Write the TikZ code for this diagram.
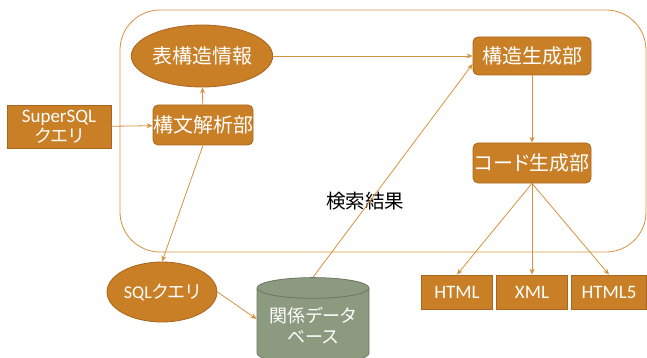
\documentclass[tikz,border=0pt]{standalone}
\usepackage{fontspec}
\setmainfont{Carlito}
\newfontfamily\jp[RawFeature=+palt]{Noto Sans CJK JP}
\usetikzlibrary{arrows.meta,shapes.geometric}
\definecolor{boxfill}{RGB}{201,127,38}
\definecolor{boxline}{RGB}{170,102,32}
\definecolor{flowline}{RGB}{214,146,62}
\definecolor{dbfill}{RGB}{140,154,128}
\definecolor{dbline}{RGB}{108,118,98}
\tikzset{
    >={Stealth[length=6pt,width=5pt]},
    every picture/.style={line width=0.8pt},
    bigfont/.style={font=\fontsize{20}{22}\selectfont},
    procbox/.style={rectangle,rounded corners=5pt,draw=boxline,fill=boxfill,text=white,
        minimum width=118pt,minimum height=38pt,inner sep=0pt,bigfont},
    plainbox/.style={rectangle,draw=boxline,fill=boxfill,text=white,
        minimum height=34pt,inner sep=0pt,font=\fontsize{19}{22}\selectfont},
    infoell/.style={ellipse,draw=boxline,fill=boxfill,text=white,inner sep=0pt,bigfont},
    dbnode/.style={cylinder,shape border rotate=90,aspect=0.24,draw=dbline,fill=dbfill,
        text=white,minimum width=112pt,minimum height=86pt,inner sep=0pt,align=center,
        font=\fontsize{18}{21}\selectfont},
    flow/.style={->,draw=flowline}
}

\begin{document}
\begin{tikzpicture}[x=1pt,y=-1pt]
    \useasboundingbox (0,0) rectangle (647,358);
    \clip (0,0) rectangle (647,358);

    % outer frame
    \draw[flowline,rounded corners=40pt] (120,10) rectangle (646,252);

    % query side
    \node[plainbox,minimum width=104pt,minimum height=43pt,align=center,
        font=\fontsize{19}{20}\selectfont] (sq) at (59,127) {SuperSQL\\{\jp\fontsize{18}{20}\selectfont クエリ}};
    \node[procbox,minimum width=98pt,minimum height=40pt] (kb) at (203,125) {\jp 構文解析部};
    \node[infoell,minimum width=131pt,minimum height=62pt] (hj) at (202,56) {\jp 表構造情報};
    \node[infoell,minimum width=110pt,minimum height=60pt,
        font=\fontsize{18}{20}\selectfont] (sqe) at (162,292) {SQL{\jp クエリ}};

    % generator side
    \node[procbox] (ks) at (532,56) {\jp 構造生成部};
    \node[procbox,minimum height=40pt] (kc) at (532,163) {\jp コード生成部};
    \node[plainbox,minimum width=71pt] (html) at (457,292) {HTML};
    \node[plainbox,minimum width=71pt] (xml) at (532,292) {XML};
    \node[plainbox,minimum width=75pt] (html5) at (609,292) {HTML5};

    % database
    \node[dbnode] (db) at (313,326) {\jp 関係データ\\\jp ベース};
    \node[font=\fontsize{19.5}{22}\selectfont] (kk) at (365,201) {\jp 検索結果};

    % connectors
    \draw[flow] (sq) -- (kb);
    \draw[flow] (kb) -- (hj);
    \draw[flow] (hj) -- (ks);
    \draw[flow] (kb.south) -- (sqe.north);
    \draw[flow] (sqe.east) -- ([yshift=7pt]db.west);
    \draw[flow] (db.north) -- ([yshift=-8pt]ks.west);
    \draw[flow] (ks) -- (kc);
    \draw[flow] (kc.south) -- (html.north);
    \draw[flow] (kc.south) -- (xml.north);
    \draw[flow] (kc.south) -- (html5.north);
\end{tikzpicture}
\end{document}
